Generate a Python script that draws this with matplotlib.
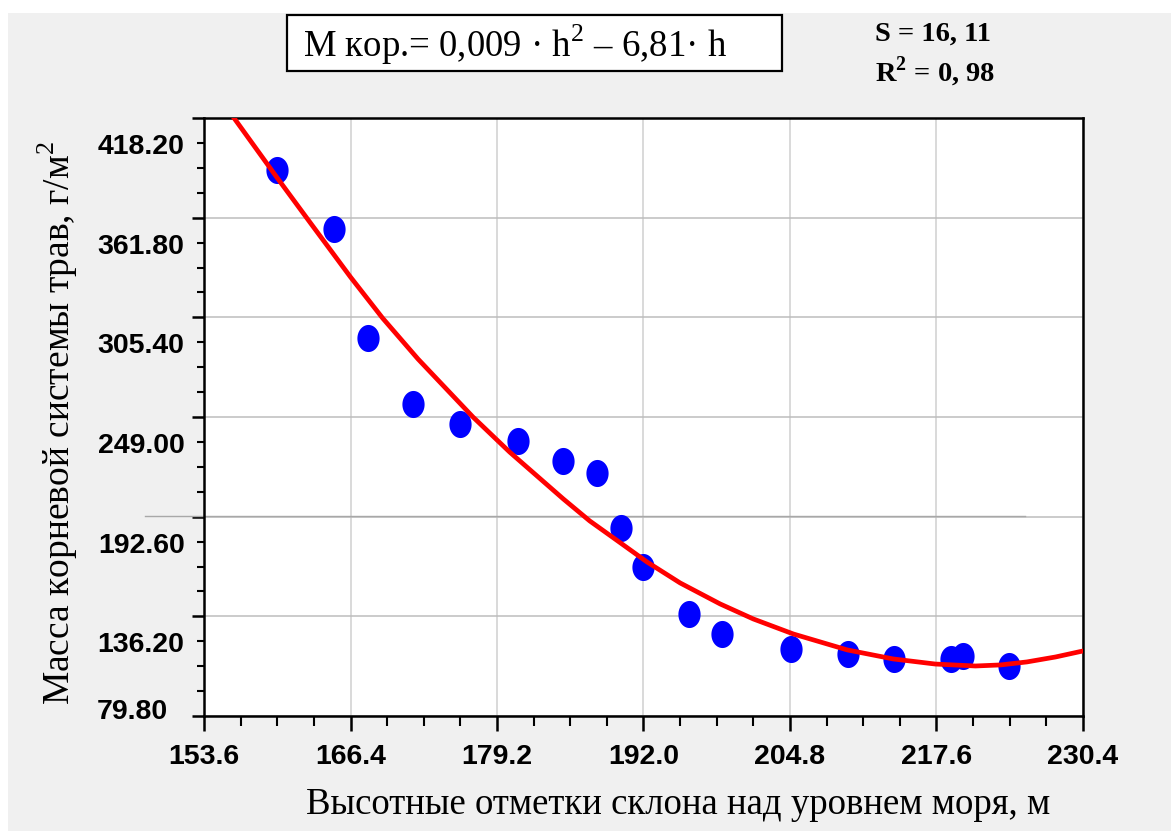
import numpy as np
import matplotlib.pyplot as plt
from matplotlib.patches import Rectangle
from matplotlib.transforms import ScaledTranslation

plt.rcParams['mathtext.fontset'] = 'custom'
plt.rcParams['mathtext.rm'] = 'Liberation Serif'
plt.rcParams['mathtext.bf'] = 'Liberation Serif:bold'

# observed points: altitude (m) vs root mass (g/m2)
height = [160.0, 165.0, 167.9, 171.9, 176.0, 181.0, 185.0, 187.9, 190.0,
          192.0, 196.0, 198.9, 204.9, 209.9, 213.9, 218.9, 219.9, 223.9]
root_mass = [388.8, 355.4, 293.7, 256.4, 245.0, 235.4, 224.1, 217.3, 186.2,
             164.1, 137.5, 126.2, 117.7, 114.9, 112.1, 112.1, 113.8, 108.1]

# fitted curve
fit_h = [156.1, 160.0, 162.9, 166.4, 169.2, 172.3, 177.1, 180.3, 185.0, 187.3,
         190.0, 192.3, 195.2, 198.7, 201.6, 205.1, 209.8, 213.8, 217.5, 221.0,
         223.2, 225.5, 228.0, 230.4]
fit_m = [419.3, 384.3, 358.8, 328.2, 305.0, 281.8, 249.0, 229.2, 202.6, 190.2,
         177.7, 167.0, 155.1, 143.2, 134.7, 126.2, 117.2, 112.1, 109.2, 108.1,
         108.7, 110.4, 113.2, 116.6]

x_ticks = [153.6, 166.4, 179.2, 192.0, 204.8, 217.6, 230.4]
y_ticks = [79.8, 136.2, 192.6, 249.0, 305.4, 361.8, 418.2]

W, H = 1171, 831
fig = plt.figure(figsize=(W / 100, H / 100), dpi=100, facecolor='#f0f0f0')
# white strips at the top and left edge
fig.patches.append(Rectangle((0, 1 - 13 / H), 1, 13 / H, transform=fig.transFigure,
                             facecolor='white', edgecolor='none', zorder=0))
fig.patches.append(Rectangle((0, 0), 8 / W, 1, transform=fig.transFigure,
                             facecolor='white', edgecolor='none', zorder=0))

ax = fig.add_axes([204 / W, 1 - 716 / H, 879 / W, 598 / H])
ax.set_facecolor('white')

t = np.linspace(0, 2 * np.pi, 60)
ellipse = np.column_stack([0.82 * np.cos(t), np.sin(t)])
ax.plot(height, root_mass, linestyle='none', marker=ellipse, markersize=19.5,
        color='#0000ff', markeredgewidth=0, zorder=3)
ax.plot(fit_h, fit_m, color='#ff0000', linewidth=3.4, zorder=4,
        solid_joinstyle='round')

ax.set_xlim(153.6, 230.4)
ax.set_ylim(79.8, 418.2)
ax.set_xticks(x_ticks)
ax.set_yticks(y_ticks)
ax.set_xticks(np.arange(153.6, 230.5, 3.2), minor=True)
ax.set_yticks(np.arange(79.8, 418.3, 14.1), minor=True)
ax.set_xticklabels([f'{v:.1f}' for v in x_ticks], fontsize=20.5,
                   fontweight='bold', family='Liberation Sans')
ax.set_yticklabels([f'{v:.2f}' for v in y_ticks], fontsize=20.5,
                   fontweight='bold', family='Liberation Sans')

ax.tick_params(axis='x', which='major', direction='out', length=11, width=1.8, pad=9)
ax.tick_params(axis='x', which='minor', direction='out', length=7, width=1.5)
ax.tick_params(axis='y', which='major', direction='out', length=9, width=1.8, pad=5)
ax.tick_params(axis='y', which='minor', direction='out', length=5, width=1.5)

ax.grid(axis='y', which='major', color='#bdbdbd', linewidth=1.1)
ax.grid(axis='x', which='major', color='#d0d0d0', linewidth=1.1)
ax.set_axisbelow(True)
for s in ax.spines.values():
    s.set_linewidth(1.8)
    s.set_color('black')

# the y labels sit a quarter step below their ticks in the original
labels = ax.get_yticklabels()
for i, lab in enumerate(labels):
    if i == 0:
        off = ScaledTranslation(-0.17, 0.07, fig.dpi_scale_trans)
    else:
        off = ScaledTranslation(0, -0.26, fig.dpi_scale_trans)
    lab.set_transform(lab.get_transform() + off)

# stray grey line near 192.6
ax.plot([-0.067, 0.934], [193.2, 193.2], transform=ax.get_yaxis_transform(),
        color='#a8a8a8', linewidth=1.0, clip_on=False, zorder=1)

fig.text(58 / W, 1 - 423 / H, 'Масса корневой системы трав, г/м$^{2}$',
         rotation=90, ha='center', va='center', fontsize=27,
         family='Liberation Serif')
fig.text(678 / W, 1 - 805 / H, 'Высотные отметки склона над уровнем моря, м',
         ha='center', va='center', fontsize=26.5, family='Liberation Serif')

# equation box
fig.patches.append(Rectangle((287 / W, 1 - 71 / H), 495 / W, 56 / H,
                             transform=fig.transFigure, facecolor='white',
                             edgecolor='black', linewidth=1.6, zorder=2))
fig.text(303 / W, 1 - 45 / H, 'M кор.= 0,009 · h$^{2}$ – 6,81· h',
         ha='left', va='center', fontsize=26.5, family='Liberation Serif', zorder=3)

fig.text(875 / W, 1 - 34 / H, 'S = 16, 11', ha='left', va='center',
         fontsize=20.5, fontweight='bold', family='Liberation Serif')
fig.text(875 / W, 1 - 72 / H, 'R$^{\\mathbf{2}}$ = 0, 98', ha='left', va='center',
         fontsize=20.5, fontweight='bold', family='Liberation Serif')

fig.savefig('out.png', dpi=100, facecolor=fig.get_facecolor())
